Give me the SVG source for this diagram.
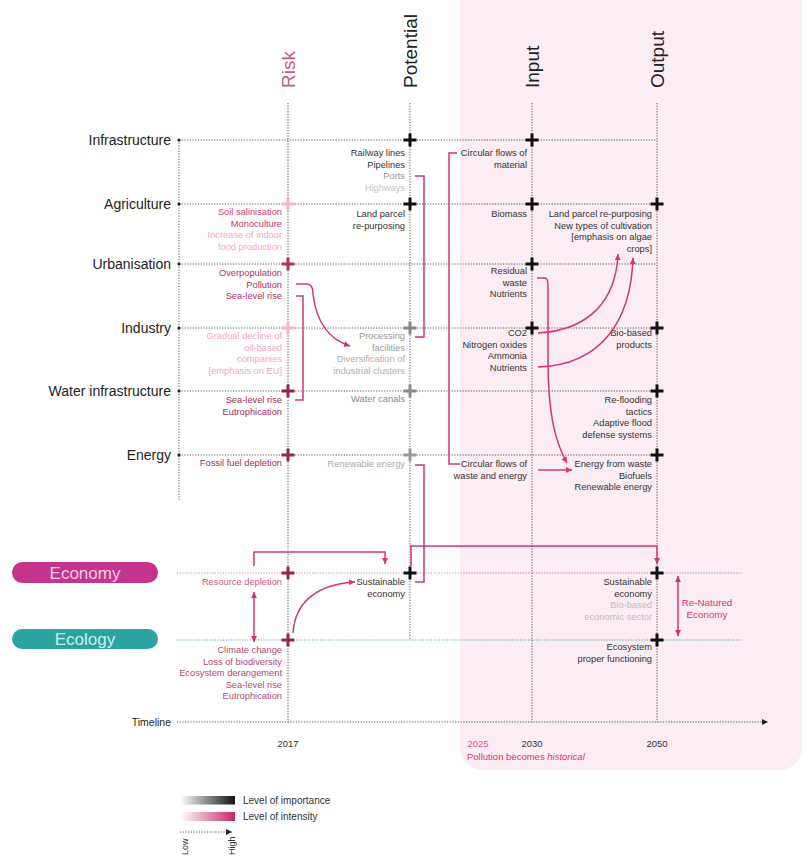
<svg xmlns="http://www.w3.org/2000/svg" width="807" height="857" viewBox="0 0 807 857">
<style>
text{font-family:"Liberation Sans",Arial,sans-serif}
.lbl{font-size:14px;fill:#222;text-anchor:end}
.hdr{font-size:19px;fill:#222;text-anchor:start}
.s{font-size:9.3px;text-anchor:end;fill:#333}
.grid{stroke:#555;stroke-width:1;stroke-dasharray:1.2 1.5;fill:none}
.con{stroke:#d6337a;stroke-width:1.5;fill:none}
.cross{stroke-width:3;fill:none}
</style>
<defs>
<marker id="ah" markerUnits="userSpaceOnUse" markerWidth="7" markerHeight="7" refX="6" refY="3" orient="auto-start-reverse"><path d="M0,0 L6,3 L0,6 z" fill="#d6337a"/></marker>
<marker id="ahk" markerUnits="userSpaceOnUse" markerWidth="7" markerHeight="7" refX="6" refY="3" orient="auto"><path d="M0,0 L6,3 L0,6 z" fill="#222"/></marker>
<linearGradient id="gk" x1="0" x2="1"><stop offset="0" stop-color="#fff"/><stop offset="1" stop-color="#111"/></linearGradient>
<linearGradient id="gp" x1="0" x2="1"><stop offset="0" stop-color="#fff"/><stop offset="1" stop-color="#c2286a"/></linearGradient>
<path id="x" d="M-6.5,0H6.5M0,-6.5V6.5"/>
</defs>
<rect x="0" y="0" width="807" height="857" fill="#fff"/>
<rect x="460" y="-30" width="342" height="800" rx="22" fill="#fbedf3"/>

<g id="grid">
<path class="grid" d="M288,103V722M410,103V640M532,103V722M657,103V722M179,140V500"/>
<path class="grid" d="M179,140H657M179,204H657M179,264H657M179,328H657M179,391H657M179,455H657"/>
<path d="M177,573H742" stroke="#d57aa5" stroke-width="1" stroke-dasharray="1.2 1.5"/>
<path d="M177,640H742" stroke="#3fa5a5" stroke-width="1" stroke-dasharray="1.2 1.5"/>
<path class="grid" d="M177,722H768" marker-end="url(#ahk)"/>
<g fill="#222"><circle cx="179" cy="140" r="1.6"/><circle cx="179" cy="204" r="1.6"/><circle cx="179" cy="264" r="1.6"/><circle cx="179" cy="328" r="1.6"/><circle cx="179" cy="391" r="1.6"/><circle cx="179" cy="455" r="1.6"/></g>
</g>

<g id="headers">
<text class="hdr" transform="translate(295,88) rotate(-90)" style="fill:#c25a8a">Risk</text>
<text class="hdr" transform="translate(417,88) rotate(-90)">Potential</text>
<text class="hdr" transform="translate(539,88) rotate(-90)">Input</text>
<text class="hdr" transform="translate(664,88) rotate(-90)">Output</text>
</g>

<g id="rows">
<text class="lbl" x="171" y="145">Infrastructure</text>
<text class="lbl" x="171" y="209">Agriculture</text>
<text class="lbl" x="171" y="269">Urbanisation</text>
<text class="lbl" x="171" y="333">Industry</text>
<text class="lbl" x="171" y="396">Water infrastructure</text>
<text class="lbl" x="171" y="460">Energy</text>
</g>

<g id="crosses">
<use href="#x" x="288" y="204" class="cross" stroke="#f4b3cb"/>
<use href="#x" x="288" y="264" class="cross" stroke="#b3305f"/>
<use href="#x" x="288" y="328" class="cross" stroke="#f4b3cb"/>
<use href="#x" x="288" y="391" class="cross" stroke="#8e2452"/>
<use href="#x" x="288" y="455" class="cross" stroke="#8e2a50"/>
<use href="#x" x="288" y="573" class="cross" stroke="#8e2a48"/>
<use href="#x" x="288" y="640" class="cross" stroke="#8e2a48"/>
<use href="#x" x="410" y="140" class="cross" stroke="#111"/>
<use href="#x" x="410" y="204" class="cross" stroke="#111"/>
<use href="#x" x="410" y="328" class="cross" stroke="#888"/>
<use href="#x" x="410" y="391" class="cross" stroke="#8a8a8a"/>
<use href="#x" x="410" y="455" class="cross" stroke="#999"/>
<use href="#x" x="410" y="573" class="cross" stroke="#111"/>
<use href="#x" x="532" y="140" class="cross" stroke="#111"/>
<use href="#x" x="532" y="204" class="cross" stroke="#111"/>
<use href="#x" x="532" y="264" class="cross" stroke="#111"/>
<use href="#x" x="532" y="328" class="cross" stroke="#111"/>
<use href="#x" x="657" y="204" class="cross" stroke="#111"/>
<use href="#x" x="657" y="328" class="cross" stroke="#111"/>
<use href="#x" x="657" y="391" class="cross" stroke="#111"/>
<use href="#x" x="657" y="455" class="cross" stroke="#111"/>
<use href="#x" x="657" y="573" class="cross" stroke="#111"/>
<use href="#x" x="657" y="640" class="cross" stroke="#111"/>
</g>

<g id="risk-texts">
<text class="s" x="282" y="215"><tspan fill="#c54077">Soil salinisation</tspan><tspan x="282" dy="11.5" fill="#b83a6f">Monoculture</tspan><tspan x="282" dy="11.5" fill="#f2a5c3">Increase of indoor</tspan><tspan x="282" dy="11.5" fill="#f2a5c3">food production</tspan></text>
<text class="s" x="282" y="276" style="fill:#b0306a"><tspan>Overpopulation</tspan><tspan x="282" dy="11.5">Pollution</tspan><tspan x="282" dy="11.5">Sea-level rise</tspan></text>
<text class="s" x="282" y="339" style="fill:#f5a3c4"><tspan>Gradual decline of</tspan><tspan x="282" dy="11.5">oil-based</tspan><tspan x="282" dy="11.5">companies</tspan><tspan x="282" dy="11.5">[emphasis on EU]</tspan></text>
<text class="s" x="282" y="403" style="fill:#9a2c5c"><tspan>Sea-level rise</tspan><tspan x="282" dy="11.5">Eutrophication</tspan></text>
<text class="s" x="282" y="466" style="fill:#9a2c5c">Fossil fuel depletion</text>
<text class="s" x="282" y="585" style="fill:#c85a85">Resource depletion</text>
<text class="s" x="282" y="653" style="fill:#b04a78"><tspan>Climate change</tspan><tspan x="282" dy="11.5">Loss of biodiversity</tspan><tspan x="282" dy="11.5">Ecosystem derangement</tspan><tspan x="282" dy="11.5">Sea-level rise</tspan><tspan x="282" dy="11.5">Eutrophication</tspan></text>
</g>

<g id="potential-texts">
<text class="s" x="405" y="156"><tspan>Railway lines</tspan><tspan x="405" dy="11.5">Pipelines</tspan><tspan x="405" dy="11.5" fill="#999">Ports</tspan><tspan x="405" dy="11.5" fill="#c4c4c4">Highways</tspan></text>
<text class="s" x="405" y="217"><tspan>Land parcel</tspan><tspan x="405" dy="11.5">re-purposing</tspan></text>
<text class="s" x="405" y="339"><tspan fill="#999">Processing</tspan><tspan x="405" dy="11.5" fill="#999">facilities</tspan><tspan x="405" dy="11.5" fill="#b0b0b0">Diversification of</tspan><tspan x="405" dy="11.5" fill="#b0b0b0">industrial clusters</tspan></text>
<text class="s" x="405" y="402" style="fill:#888">Water canals</text>
<text class="s" x="405" y="467" style="fill:#aaa">Renewable energy</text>
<text class="s" x="405" y="585"><tspan>Sustainable</tspan><tspan x="405" dy="11.5">economy</tspan></text>
</g>

<g id="input-texts">
<text class="s" x="527" y="156"><tspan>Circular flows of</tspan><tspan x="527" dy="11.5">material</tspan></text>
<text class="s" x="527" y="217">Biomass</text>
<text class="s" x="527" y="274"><tspan>Residual</tspan><tspan x="527" dy="11.5">waste</tspan><tspan x="527" dy="11.5">Nutrients</tspan></text>
<text class="s" x="527" y="336"><tspan>CO2</tspan><tspan x="527" dy="11.5">Nitrogen oxides</tspan><tspan x="527" dy="11.5">Ammonia</tspan><tspan x="527" dy="11.5">Nutrients</tspan></text>
<text class="s" x="527" y="467"><tspan>Circular flows of</tspan><tspan x="527" dy="11.5">waste and energy</tspan></text>
</g>

<g id="output-texts">
<text class="s" x="652" y="217"><tspan>Land parcel re-purposing</tspan><tspan x="652" dy="11.5">New types of cultivation</tspan><tspan x="652" dy="11.5">[emphasis on algae</tspan><tspan x="652" dy="11.5">crops]</tspan></text>
<text class="s" x="652" y="336"><tspan>Bio-based</tspan><tspan x="652" dy="11.5">products</tspan></text>
<text class="s" x="652" y="403"><tspan>Re-flooding</tspan><tspan x="652" dy="11.5">tactics</tspan><tspan x="652" dy="11.5">Adaptive flood</tspan><tspan x="652" dy="11.5">defense systems</tspan></text>
<text class="s" x="652" y="467"><tspan>Energy from waste</tspan><tspan x="652" dy="11.5">Biofuels</tspan><tspan x="652" dy="11.5">Renewable energy</tspan></text>
<text class="s" x="652" y="585"><tspan>Sustainable</tspan><tspan x="652" dy="11.5">economy</tspan><tspan x="652" dy="11.5" fill="#bbb">Bio-based</tspan><tspan x="652" dy="11.5" fill="#bbb">economic sector</tspan></text>
<text class="s" x="652" y="650"><tspan>Ecosystem</tspan><tspan x="652" dy="11.5">proper functioning</tspan></text>
<text x="707" y="606" font-size="9.8" fill="#d6337a" text-anchor="middle"><tspan>Re-Natured</tspan><tspan x="707" dy="12">Economy</tspan></text>
</g>

<g id="economy">
<rect x="12" y="562" width="146" height="21" rx="10.5" fill="#c5338f"/>
<text x="85" y="579" font-size="17" fill="#f6cde6" text-anchor="middle">Economy</text>
</g>
<g id="ecology">
<rect x="12" y="629" width="146" height="20" rx="10" fill="#2aa3a3"/>
<text x="85" y="645" font-size="17" fill="#c9f0ee" text-anchor="middle">Ecology</text>
</g>

<g id="connectors">
<path class="con" d="M296,284H307Q313,284 313,294Q318,336 350,346" marker-end="url(#ah)"/>
<path class="con" d="M296,296H303V400H295"/>
<path class="con" d="M415,176H424V337H415"/>
<path class="con" d="M415,465H424V582H415"/>
<path class="con" d="M411,566V546H657V564" marker-end="url(#ah)"/>
<path class="con" d="M254,566V552H385V564" marker-end="url(#ah)"/>
<path class="con" d="M254,592V642" marker-start="url(#ah)" marker-end="url(#ah)"/>
<path class="con" d="M293,633C295,600 320,584 355,582" marker-end="url(#ah)"/>
<path class="con" d="M457,153H449V464H460"/>
<path class="con" d="M538,470H572" marker-end="url(#ah)"/>
<path class="con" d="M537,278H545Q548,278 548,286V360C548,410 554,440 567,463" marker-end="url(#ah)"/>
<path class="con" d="M538,333C590,330 616,300 618,254" marker-end="url(#ah)"/>
<path class="con" d="M538,367C602,365 631,320 633,258" marker-end="url(#ah)"/>
<path class="con" d="M678,576V636" marker-start="url(#ah)" marker-end="url(#ah)"/>
</g>

<g id="timeline">
<text x="171" y="726" font-size="10.5" fill="#222" text-anchor="end">Timeline</text>
<text x="288" y="747" font-size="9.5" fill="#333" text-anchor="middle">2017</text>
<text x="478" y="747" font-size="9.5" fill="#e0508e" text-anchor="middle">2025</text>
<text x="532" y="747" font-size="9.5" fill="#333" text-anchor="middle">2030</text>
<text x="657" y="747" font-size="9.5" fill="#333" text-anchor="middle">2050</text>
<text x="467" y="760" font-size="9.5" fill="#d6337a">Pollution becomes <tspan font-style="italic">historical</tspan></text>
</g>

<g id="legend">
<rect x="180" y="796" width="55" height="8.5" fill="url(#gk)"/>
<rect x="180" y="812" width="55" height="9" fill="url(#gp)"/>
<text x="243" y="804" font-size="10" fill="#333">Level of importance</text>
<text x="243" y="820" font-size="10" fill="#333">Level of intensity</text>
<path class="grid" d="M180,832H232" marker-end="url(#ahk)"/>
<text transform="translate(188,855) rotate(-90)" font-size="9" fill="#333">Low</text>
<text transform="translate(235,855) rotate(-90)" font-size="9" fill="#333">High</text>
</g>
</svg>
